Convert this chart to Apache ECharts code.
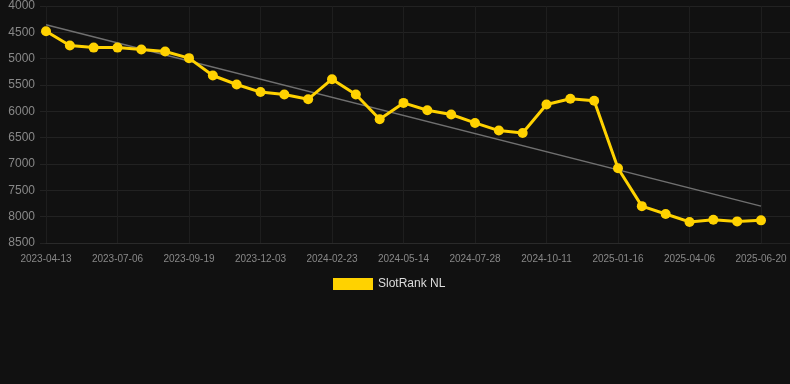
<!DOCTYPE html>
<html>
<head>
<meta charset="utf-8">
<script src="https://cdn.jsdelivr.net/npm/echarts@6/dist/echarts.min.js"></script>
<style>
html,body{margin:0;padding:0;background:#111111;}
#chart{width:790px;height:384px;}
</style>
</head>
<body>
<div id="chart"></div>
<script>
const dates = [
  '2023-04-13','2023-05-11','2023-06-08','2023-07-06','2023-07-31','2023-08-25',
  '2023-09-19','2023-10-14','2023-11-08','2023-12-03','2023-12-30','2024-01-26',
  '2024-02-23','2024-03-20','2024-04-17','2024-05-14','2024-06-08','2024-07-03',
  '2024-07-28','2024-08-22','2024-09-16','2024-10-11','2024-11-12','2024-12-14',
  '2025-01-16','2025-02-11','2025-03-09','2025-04-06','2025-05-01','2025-05-26',
  '2025-06-20'
];
const rankNL = [
  4480, 4750, 4790, 4790, 4826, 4864, 4990, 5320, 5490, 5634, 5680, 5770,
  5390, 5680, 6150, 5840, 5980, 6060, 6220, 6365, 6410, 5870, 5760, 5800,
  7080, 7800, 7950, 8100, 8060, 8090, 8070
];
const trendEnds = [4355, 7800];
const yTicks = { min: 4000, max: 8500, interval: 500 };

const trendData = dates.map((d, i) => i === 0 ? trendEnds[0] : (i === dates.length - 1 ? trendEnds[1] : null));

const chart = echarts.init(document.getElementById('chart'));
chart.setOption({
  backgroundColor: '#111111',
  animation: false,
  legend: {
    data: ['SlotRank NL'],
    top: 273,
    left: 328,
    itemWidth: 40,
    itemHeight: 12,
    itemGap: 10,
    icon: 'rect',
    textStyle: { color: '#dddddd', fontSize: 12, fontFamily: 'Liberation Sans, Arial, sans-serif' }
  },
  grid: [
    { left: 40, right: 0, top: 6, bottom: 141 },
    { left: 46, right: 29, top: 6, bottom: 141 }
  ],
  xAxis: [
    { gridIndex: 0, type: 'value', min: 0, max: 1, show: false },
    {
      gridIndex: 1, type: 'category', data: dates, boundaryGap: false,
      axisLine: { show: true, lineStyle: { color: '#2a2a2a' } },
      axisTick: { show: false },
      axisLabel: { interval: 2, color: '#888888', fontSize: 10, margin: 11, fontFamily: 'Liberation Sans, Arial, sans-serif' },
      splitLine: { show: true, interval: 2, lineStyle: { color: '#1e1e1e', width: 1 } }
    }
  ],
  yAxis: [
    {
      gridIndex: 0, type: 'value', inverse: true,
      min: yTicks.min, max: yTicks.max, interval: yTicks.interval,
      axisLine: { show: false }, axisTick: { show: false },
      axisLabel: { color: '#888888', fontSize: 12, margin: 5, formatter: v => String(v), fontFamily: 'Liberation Sans, Arial, sans-serif' },
      splitLine: { show: true, lineStyle: { color: '#222222', width: 1 } }
    },
    {
      gridIndex: 1, type: 'value', inverse: true,
      min: yTicks.min, max: yTicks.max, interval: yTicks.interval,
      show: false, splitLine: { show: false }
    }
  ],
  series: [
    {
      name: 'Trend', type: 'line', xAxisIndex: 1, yAxisIndex: 1,
      data: trendData, connectNulls: true, symbol: 'none', silent: true,
      lineStyle: { color: '#707070', width: 1.5 }, z: 1
    },
    {
      name: 'SlotRank NL', type: 'line', xAxisIndex: 1, yAxisIndex: 1,
      data: rankNL, symbol: 'circle', symbolSize: 10,
      itemStyle: { color: '#ffd200' },
      lineStyle: { color: '#ffd200', width: 3 }, z: 2
    }
  ]
});
</script>
</body>
</html>
